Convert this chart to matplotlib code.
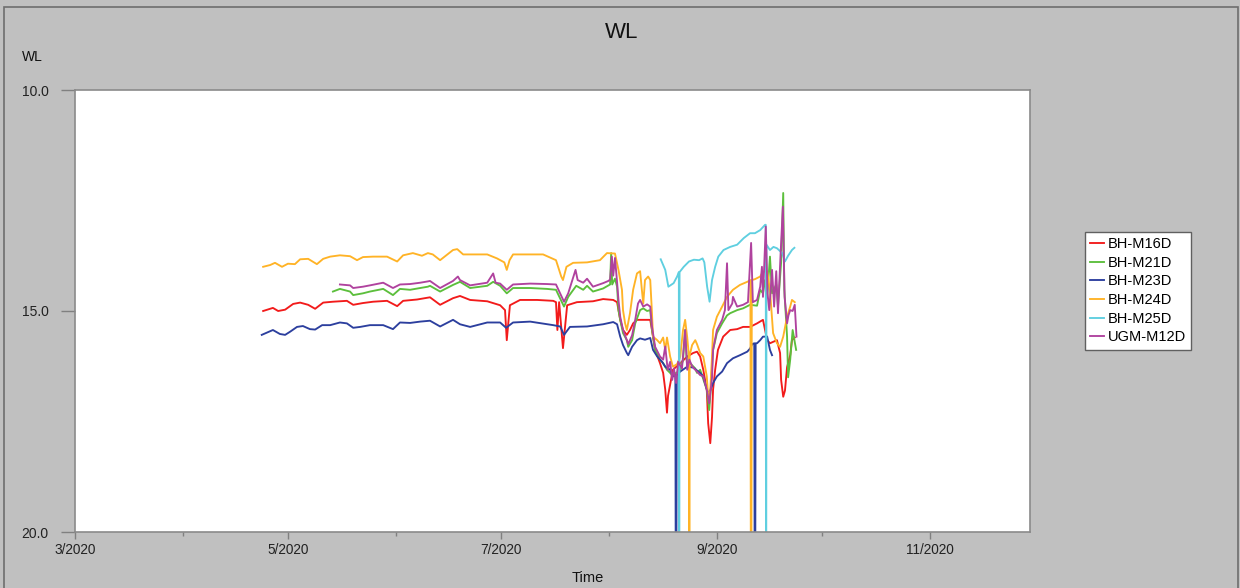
import numpy as np
import matplotlib
matplotlib.use("Agg")
import matplotlib.pyplot as plt
import matplotlib.dates as mdates
from matplotlib.ticker import FixedLocator, FuncFormatter
from matplotlib.patches import Rectangle

plt.rcParams['font.family'] = ['Liberation Sans', 'DejaVu Sans']

# (days since 1 Mar 2020, WL). 25.0 = logger dropout, falls off the bottom of the scale
m16d = [(53.9, 15.00), (56.7, 14.93), (58.2, 15.00), (60.2, 14.97), (62.5, 14.84), (64.5, 14.81),
        (66.8, 14.86), (68.8, 14.95), (71.1, 14.81), (73.9, 14.79), (77.9, 14.77), (79.7, 14.86),
        (82.5, 14.82), (85.4, 14.79), (89.4, 14.77), (92.3, 14.89), (94.0, 14.77), (98.0, 14.74),
        (101.7, 14.69), (104.6, 14.86), (108.3, 14.71), (110.3, 14.66), (113.2, 14.75), (118.1, 14.78),
        (121.8, 14.87), (123.2, 14.98), (123.7, 15.66), (124.6, 14.87), (127.5, 14.75), (132.4, 14.75),
        (137.0, 14.77), (137.8, 14.80), (138.2, 15.43), (138.7, 14.80), (139.8, 15.84), (141.0, 14.87),
        (143.8, 14.80), (148.4, 14.78), (151.3, 14.73), (154.2, 14.75), (155.3, 14.80), (156.2, 15.20),
        (157.0, 15.43), (158.1, 15.54), (159.0, 15.43), (159.9, 15.28), (161.0, 15.20), (162.8, 15.20),
        (164.8, 15.20), (165.3, 15.43), (166.2, 15.88), (167.6, 16.18), (168.5, 16.40), (169.1, 16.78),
        (169.6, 17.30), (169.9, 16.92), (171.3, 16.33), (173.4, 16.18), (175.4, 16.03), (177.1, 15.95),
        (178.2, 15.92), (179.1, 16.03), (180.0, 16.33), (181.0, 16.78), (181.4, 17.54), (182.0, 17.99),
        (182.5, 17.40), (182.8, 16.78), (183.4, 16.33), (184.2, 15.88), (185.7, 15.58), (187.7, 15.43),
        (189.7, 15.41), (191.4, 15.36), (193.4, 15.36), (195.4, 15.28), (197.1, 15.20), (198.3, 15.66),
        (199.1, 15.73), (201.1, 15.66), (202.0, 15.95), (202.3, 16.56), (202.9, 16.94), (203.4, 16.80),
        (204.0, 16.27), (204.9, 16.00), (205.4, 15.66), (206.2, 15.60)]

m21d = [(73.9, 14.56), (75.9, 14.50), (78.8, 14.56), (79.7, 14.64), (82.5, 14.60), (84.5, 14.56),
        (88.3, 14.50), (91.1, 14.64), (93.1, 14.50), (96.0, 14.52), (98.9, 14.48), (101.1, 14.45),
        (101.7, 14.43), (104.6, 14.56), (108.3, 14.41), (110.3, 14.34), (113.2, 14.48), (118.1, 14.43),
        (119.8, 14.34), (121.8, 14.43), (123.7, 14.60), (125.5, 14.48), (130.4, 14.48), (135.2, 14.50),
        (137.8, 14.52), (140.1, 14.90), (141.3, 14.68), (143.6, 14.43), (145.6, 14.52), (146.7, 14.43),
        (148.4, 14.56), (151.3, 14.49), (153.3, 14.40), (153.6, 13.69), (153.9, 14.40), (154.7, 14.27),
        (155.3, 14.45), (155.7, 14.98), (156.2, 15.20), (157.0, 15.50), (158.1, 15.66), (158.5, 15.81),
        (159.6, 15.66), (160.5, 15.28), (161.9, 14.98), (162.8, 14.94), (163.9, 15.00), (164.8, 14.98),
        (165.3, 15.43), (166.2, 15.88), (167.6, 16.10), (168.5, 16.18), (169.6, 16.33), (170.5, 16.40),
        (171.3, 16.48), (172.2, 16.40), (173.4, 16.35), (174.2, 16.10), (174.8, 15.43), (175.4, 16.30),
        (176.2, 16.18), (177.7, 16.30), (178.2, 16.40), (179.1, 16.33), (181.0, 16.78), (181.7, 17.24),
        (182.2, 16.70), (182.8, 15.88), (183.9, 15.50), (185.4, 15.28), (186.8, 15.10), (187.7, 15.05),
        (189.7, 14.98), (191.4, 14.94), (193.4, 14.86), (195.4, 14.88), (196.3, 14.52), (197.1, 14.60),
        (197.7, 14.30), (198.3, 14.70), (199.1, 13.77), (199.7, 14.60), (200.9, 14.40), (201.4, 14.90),
        (202.3, 13.90), (202.9, 12.33), (203.2, 14.50), (204.0, 15.58), (204.3, 16.50), (204.9, 16.10),
        (205.6, 15.43), (206.6, 15.88)]

m23d = [(53.5, 15.54), (56.7, 15.43), (58.7, 15.52), (60.2, 15.54), (61.6, 15.47), (63.6, 15.36),
        (65.3, 15.34), (67.3, 15.41), (68.8, 15.42), (70.8, 15.32), (73.1, 15.32), (75.9, 15.26),
        (77.9, 15.28), (79.7, 15.38), (81.7, 15.36), (84.5, 15.32), (88.3, 15.32), (91.1, 15.41),
        (93.1, 15.26), (96.0, 15.27), (98.9, 15.24), (101.7, 15.22), (104.6, 15.35), (108.3, 15.20),
        (110.3, 15.30), (113.2, 15.36), (118.1, 15.26), (121.8, 15.26), (123.5, 15.38), (125.5, 15.26),
        (130.4, 15.24), (137.0, 15.32), (139.0, 15.35), (140.1, 15.54), (141.8, 15.36), (146.7, 15.35),
        (151.3, 15.30), (154.2, 15.25), (155.3, 15.30), (156.2, 15.58), (157.0, 15.77), (158.1, 15.95),
        (158.5, 16.00), (159.6, 15.81), (161.0, 15.66), (161.9, 15.62), (163.3, 15.65), (164.8, 15.61),
        (165.6, 15.88), (166.8, 16.03), (168.2, 16.15), (169.1, 16.26), (170.5, 16.33), (171.3, 16.48),
        (172.0, 16.45), (172.2, 25.0), (172.4, 16.45), (173.4, 16.37), (175.4, 16.26), (177.1, 16.28),
        (179.1, 16.40), (180.0, 16.48), (180.5, 16.63), (181.4, 16.86), (182.0, 16.80), (182.8, 16.63),
        (183.9, 16.48), (185.4, 16.37), (186.8, 16.18), (188.5, 16.07), (190.5, 16.00), (192.6, 15.92),
        (193.4, 15.85), (194.0, 15.75), (194.6, 15.73), (194.8, 25.0), (195.0, 15.73), (195.4, 15.73),
        (196.3, 15.66), (197.1, 15.58), (198.3, 15.58), (199.1, 15.88), (199.7, 16.00)]

m24d = [(53.9, 14.00), (55.9, 13.96), (57.3, 13.91), (59.3, 14.00), (61.0, 13.93), (63.0, 13.94),
        (64.5, 13.83), (66.8, 13.82), (69.3, 13.94), (71.1, 13.82), (73.1, 13.77), (75.9, 13.74),
        (78.8, 13.76), (80.8, 13.85), (82.5, 13.78), (85.4, 13.77), (89.4, 13.77), (92.3, 13.88),
        (94.0, 13.74), (96.8, 13.69), (99.4, 13.75), (101.1, 13.69), (102.5, 13.72), (104.6, 13.85),
        (108.3, 13.62), (109.5, 13.60), (111.2, 13.72), (115.2, 13.72), (118.1, 13.72), (120.9, 13.81),
        (123.0, 13.90), (123.7, 14.07), (124.5, 13.85), (125.5, 13.72), (129.5, 13.72), (134.1, 13.72),
        (137.8, 13.85), (139.3, 14.22), (139.8, 14.30), (140.8, 14.00), (142.7, 13.91), (146.7, 13.90),
        (150.4, 13.85), (152.4, 13.69), (154.7, 13.70), (155.7, 14.07), (156.7, 14.52), (157.0, 14.98),
        (157.6, 15.28), (158.1, 15.43), (159.0, 15.05), (159.9, 14.52), (161.0, 14.15), (161.9, 14.10),
        (162.4, 14.52), (162.8, 14.83), (163.3, 14.30), (164.2, 14.22), (164.8, 14.30), (165.3, 15.05),
        (165.6, 15.58), (166.8, 15.66), (167.6, 15.73), (168.5, 15.60), (169.1, 15.88), (169.6, 15.60),
        (170.5, 16.03), (171.3, 16.26), (172.5, 16.20), (173.4, 16.03), (174.2, 15.43), (174.8, 15.20),
        (175.4, 15.60), (175.9, 16.03), (176.0, 25.0), (176.1, 16.00), (176.8, 15.77), (177.7, 15.66),
        (178.2, 15.75), (179.1, 15.95), (180.0, 16.03), (181.0, 16.48), (181.4, 16.94), (182.0, 16.80),
        (182.5, 16.03), (182.8, 15.43), (183.9, 15.13), (185.4, 14.90), (186.8, 14.68), (188.5, 14.52),
        (190.5, 14.41), (192.6, 14.34), (193.5, 14.30), (193.7, 25.0), (193.9, 14.30), (194.8, 14.28),
        (196.3, 14.22), (197.1, 14.11), (198.3, 14.10), (199.1, 14.52), (200.0, 15.50), (201.1, 15.73),
        (202.0, 15.81), (202.9, 15.58), (204.0, 15.13), (204.9, 14.90), (205.4, 14.75), (206.2, 14.80)]

m25d = [(167.8, 13.83), (169.1, 14.07), (170.0, 14.45), (171.5, 14.37), (172.5, 14.22), (173.0, 14.12),
        (173.1, 25.0), (173.2, 14.12), (174.4, 14.00), (175.9, 13.88), (177.3, 13.84), (178.8, 13.85),
        (179.8, 13.81), (180.3, 13.90), (181.1, 14.45), (181.8, 14.79), (182.5, 14.30), (183.4, 14.00),
        (184.3, 13.77), (185.8, 13.62), (187.7, 13.55), (189.7, 13.50), (191.6, 13.35), (193.4, 13.24),
        (194.8, 13.24), (196.3, 13.17), (197.7, 13.05), (197.9, 13.05), (198.0, 25.0), (198.1, 13.50),
        (199.1, 13.62), (200.1, 13.55), (201.1, 13.58), (202.6, 13.69), (203.4, 13.88), (204.3, 13.75),
        (205.4, 13.62), (206.1, 13.57)]

ugm12d = [(75.9, 14.40), (78.8, 14.42), (79.7, 14.48), (82.5, 14.45), (84.5, 14.42), (88.3, 14.36),
          (91.1, 14.48), (93.1, 14.40), (96.0, 14.39), (98.9, 14.36), (101.1, 14.33), (101.7, 14.32),
          (104.6, 14.48), (108.3, 14.32), (109.7, 14.22), (110.3, 14.30), (113.2, 14.42), (118.1, 14.36),
          (119.8, 14.15), (120.5, 14.36), (121.8, 14.38), (123.7, 14.52), (125.5, 14.40), (130.4, 14.38),
          (135.2, 14.39), (137.8, 14.40), (140.1, 14.79), (141.3, 14.60), (143.4, 14.07), (144.0, 14.30),
          (145.6, 14.36), (146.7, 14.27), (148.4, 14.45), (151.3, 14.37), (152.8, 14.32), (153.3, 14.29),
          (153.8, 13.77), (154.2, 14.20), (154.7, 13.80), (155.3, 14.35), (155.7, 14.75), (156.2, 15.13),
          (157.0, 15.43), (158.1, 15.66), (158.5, 15.75), (159.6, 15.55), (160.5, 15.20), (161.3, 14.83),
          (161.9, 14.75), (162.8, 14.90), (163.9, 14.85), (164.8, 14.90), (165.3, 15.35), (166.2, 15.81),
          (167.6, 16.03), (168.5, 16.10), (169.1, 15.80), (169.8, 16.33), (170.5, 16.15), (171.1, 16.56),
          (171.6, 16.30), (172.2, 16.63), (172.8, 16.15), (173.9, 16.30), (174.8, 15.43), (175.4, 16.33),
          (176.0, 16.10), (176.8, 16.25), (177.7, 16.33), (178.2, 16.37), (179.1, 16.45), (180.0, 16.48),
          (181.0, 16.78), (181.7, 17.09), (182.5, 16.50), (182.8, 15.88), (183.9, 15.43), (185.4, 15.20),
          (186.2, 14.98), (186.8, 13.92), (187.2, 14.98), (188.3, 14.83), (188.5, 14.68), (189.7, 14.90),
          (191.4, 14.86), (192.8, 14.80), (193.7, 13.46), (194.2, 14.80), (195.4, 14.75), (196.3, 14.45),
          (196.8, 14.00), (197.1, 14.68), (197.9, 13.09), (198.4, 14.60), (198.9, 14.98), (199.7, 14.07),
          (200.3, 14.90), (200.9, 14.10), (201.4, 15.05), (202.2, 13.62), (202.8, 12.64), (203.3, 14.68),
          (204.0, 15.28), (204.4, 15.10), (204.9, 14.98), (205.6, 15.00), (206.2, 14.86), (206.7, 15.58)]

names = ["BH-M16D", "BH-M21D", "BH-M23D", "BH-M24D", "BH-M25D", "UGM-M12D"]
data = [m16d, m21d, m23d, m24d, m25d, ugm12d]
colors = ["#f21b1b", "#5cbf3c", "#2c3f9e", "#ffb326", "#5fcfe0", "#b0429e"]

start = mdates.date2num(np.datetime64("2020-03-01"))

fig = plt.figure(figsize=(12.4, 5.88), dpi=100, facecolor="#c0c0c0")
fig.patches.append(Rectangle((4 / 1240, -0.02), 1234 / 1240, 1.02 - 7 / 588, transform=fig.transFigure,
                             fill=False, edgecolor="#6e6e6e", lw=1.2))
ax = fig.add_axes([75 / 1240, 1 - 532 / 588, 955 / 1240, 442 / 588])

for name, pts, c in zip(names, data, colors):
    d = np.array(pts)
    ax.plot(start + d[:, 0], d[:, 1], color=c, lw=1.35, label=name)

ax.set_xlim(start, start + 273.6)
ax.set_ylim(20, 10)

ax.yaxis.set_major_locator(FixedLocator([10, 15, 20]))
ax.yaxis.set_major_formatter(FuncFormatter(lambda v, p: "%.1f" % v))
ax.tick_params(axis="y", length=10, width=1, color="#808080", pad=9, labelsize=10, labelcolor="#222222")

major = [mdates.date2num(np.datetime64(m)) for m in ["2020-03-01", "2020-05-01", "2020-07-01", "2020-09-01", "2020-11-01"]]
minor = [mdates.date2num(np.datetime64(m)) for m in ["2020-04-01", "2020-06-01", "2020-08-01", "2020-10-01"]]
ax.xaxis.set_major_locator(FixedLocator(major))
ax.xaxis.set_minor_locator(FixedLocator(minor))
ax.xaxis.set_major_formatter(FuncFormatter(lambda v, p: "%d/%d" % (mdates.num2date(v).month, mdates.num2date(v).year)))
ax.tick_params(axis="x", which="major", length=5, width=1, color="#808080", pad=3, labelsize=9.8, labelcolor="#222222")
ax.tick_params(axis="x", which="minor", length=3, width=1, color="#808080")

for s in ax.spines.values():
    s.set_color("#8a8a8a")
    s.set_linewidth(1.2)

fig.text(622 / 1240, 1 - 32 / 588, "WL", ha="center", va="center", fontsize=16, color="#111111")
fig.text(22 / 1240, 1 - 57 / 588, "WL", ha="left", va="center", fontsize=10, color="#111111")
fig.text(588 / 1240, 1 - 578 / 588, "Time", ha="center", va="center", fontsize=10.5, color="#111111")

leg = fig.legend(loc="upper left", bbox_to_anchor=(1085 / 1240, 1 - 232 / 588), fontsize=10.5,
                 frameon=True, fancybox=False, framealpha=1, edgecolor="#606060",
                 handlelength=0.95, handletextpad=0.25, labelspacing=0.32, borderpad=0.35, borderaxespad=0)
leg.get_frame().set_linewidth(1.0)

fig.savefig("out.png", dpi=100, facecolor=fig.get_facecolor())
